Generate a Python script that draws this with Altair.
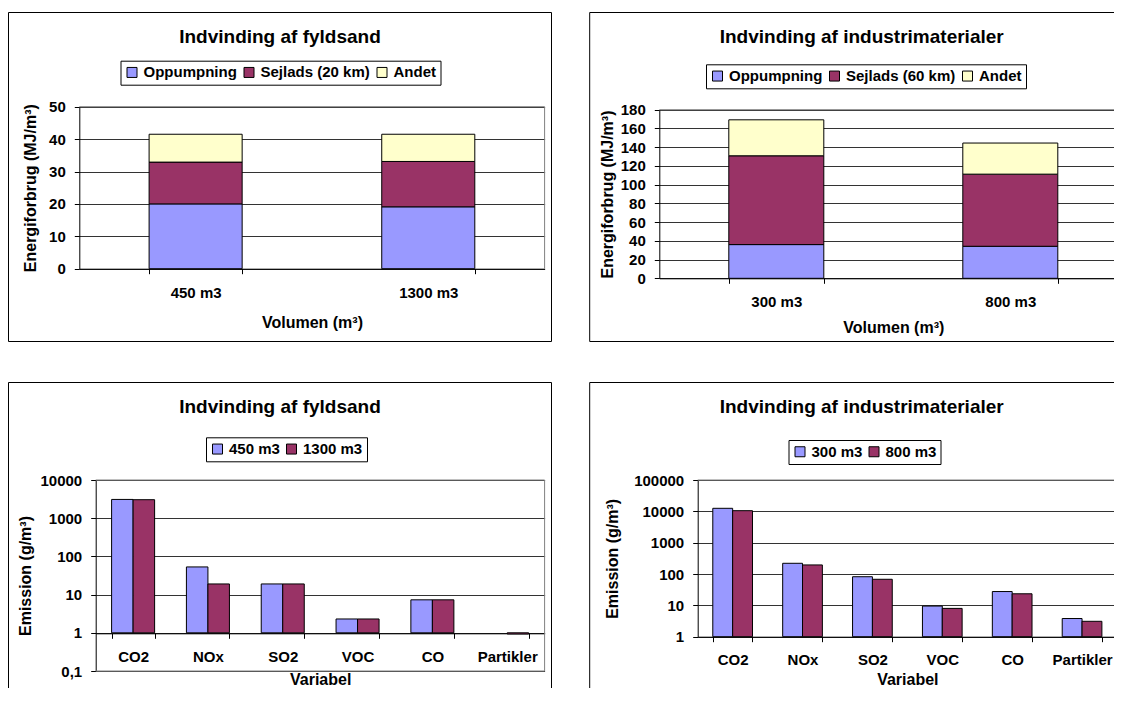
import altair as alt
import pandas as pd

FONT = "Liberation Sans"
BLUE = "#9999FF"
MAROON = "#993366"
CREAM = "#FFFFCC"
GRID = "#333333"
BORDER = "#808080"

# ---------------- data ----------------
title1 = "Indvinding af fyldsand"
vol1 = ["450 m3", "1300 m3"]
comp1 = ["Oppumpning", "Sejlads (20 km)", "Andet"]
opp1 = [20.0, 19.1]
sejl1 = [12.9, 14.0]
andet1 = [8.6, 8.4]
y1_ticks = [0, 10, 20, 30, 40, 50]

title2 = "Indvinding af industrimaterialer"
vol2 = ["300 m3", "800 m3"]
comp2 = ["Oppumpning", "Sejlads (60 km)", "Andet"]
opp2 = [36.0, 34.2]
sejl2 = [94.8, 77.0]
andet2 = [38.4, 33.2]
y2_ticks = [0, 20, 40, 60, 80, 100, 120, 140, 160, 180]

variables = ["CO2", "NOx", "SO2", "VOC", "CO", "Partikler"]
ser3 = ["450 m3", "1300 m3"]
em3_450 = [3100, 53, 19, 2.3, 7.3, None]
em3_1300 = [3050, 19, 19, 2.3, 7.3, 0.93]
y3_ticks = [0.1, 1, 10, 100, 1000, 10000]

ser4 = ["300 m3", "800 m3"]
em4_300 = [12500, 220, 82, 9.5, 27.6, 3.8]
em4_800 = [10500, 195, 68, 8.0, 23.4, 3.1]
y4_ticks = [1, 10, 100, 1000, 10000, 100000]

xtitle_vol = "Volumen (m³)"
ytitle_energy = "Energiforbrug (MJ/m³)"
xtitle_var = "Variabel"
ytitle_em = "Emission (g/m³)"

# ---------------- layout (page pixels) ----------------
TOT_W, TOT_H = 1106, 680
M = 8  # page margin


def P(v):
    return v - M


def stack_df(vols, comps, series, k):
    rows = []
    for i, v in enumerate(vols):
        for j, c in enumerate(comps):
            rows.append({f"vol{k}": v, f"comp{k}": c, f"value{k}": series[j][i], f"ord{k}": j})
    return pd.DataFrame(rows)


def group_df(cats, sers, series, k):
    rows = []
    for i, c in enumerate(cats):
        for j, s in enumerate(sers):
            val = series[j][i]
            if val is not None:
                rows.append({f"var{k}": c, f"ser{k}": s, f"value{k}": val})
    return pd.DataFrame(rows)


DUMMY = pd.DataFrame({"d": [0]})


def frame(x1, y1, x2, y2):
    return alt.Chart(DUMMY).mark_rect(fill="transparent", stroke="black", strokeWidth=1).encode(
        x=alt.value(P(x1)), x2=alt.value(P(x2)), y=alt.value(P(y1)), y2=alt.value(P(y2)))


def hrule(x1, x2, y, color=BORDER):
    return alt.Chart(DUMMY).mark_rule(color=color, strokeWidth=1).encode(
        x=alt.value(P(x1)), x2=alt.value(P(x2)), y=alt.value(P(y)))


def vrule(x, y1, y2, color=BORDER):
    return alt.Chart(DUMMY).mark_rule(color=color, strokeWidth=1).encode(
        x=alt.value(P(x)), y=alt.value(P(y1)), y2=alt.value(P(y2)))


def title_text(txt, x, y):
    return alt.Chart(DUMMY).mark_text(
        text=txt, font=FONT, fontSize=19, fontWeight="bold", color="black",
        align="center", baseline="middle").encode(x=alt.value(P(x)), y=alt.value(P(y)))


def legend(x, y):
    return alt.Legend(
        orient="none", legendX=P(x), legendY=P(y), direction="horizontal", title=None,
        strokeColor="black", fillColor="white", padding=4, cornerRadius=0,
        symbolType="square", symbolSize=100, symbolStrokeColor="black",
        symbolStrokeWidth=1, labelFont=FONT, labelFontSize=15,
        labelFontWeight="bold", labelColor="black", columnPadding=4,
        labelOffset=4)


def xaxis(left, right, axis_y, label_pad, title_y):
    return alt.Axis(
        orient="bottom", offset=P(axis_y) - TOT_H,
        labelAngle=0, labelBaseline="middle", labelPadding=label_pad,
        tickBand="extent", tickSize=5, grid=False, labelOverlap=False,
        titleX=P((left + right) / 2), titleY=title_y - axis_y,
        titleBaseline="middle", titleAlign="center")


def yaxis(values, left, top, bottom, title_x, log=False):
    kw = dict(
        orient="left", offset=-P(left), values=values, grid=True,
        gridColor=GRID, gridWidth=1, tickSize=5, labelPadding=9,
        titleX=title_x - left, titleY=P((top + bottom) / 2),
        titleBaseline="middle", titleAlign="center", titleAngle=270)
    if log:
        kw["labelExpr"] = "replace(toString(datum.value), '.', ',')"
    return alt.Axis(**kw)


layers = []

# ---------------- panel 1 ----------------
L1, R1, T1, B1 = 79.3, 544.6, 106.7, 268.7
df1 = stack_df(vol1, comp1, [opp1, sejl1, andet1], 1)
bars1 = alt.Chart(df1).mark_bar(stroke="black", strokeWidth=1).encode(
    x=alt.X("vol1:N", sort=vol1, title=xtitle_vol,
            scale=alt.Scale(paddingInner=0.6, paddingOuter=0.3, range=[P(L1), P(R1)]),
            axis=xaxis(L1, R1, B1, 18.3, 322.7)),
    y=alt.Y("value1:Q", stack="zero", title=ytitle_energy,
            scale=alt.Scale(domain=[0, 50], nice=False, range=[P(B1), P(T1)]),
            axis=yaxis(y1_ticks, L1, T1, B1, 30)),
    color=alt.Color("comp1:N", scale=alt.Scale(domain=comp1, range=[BLUE, MAROON, CREAM]),
                    legend=legend(120.5, 60.7)),
    order=alt.Order("ord1:Q", sort="ascending"),
)
layers += [frame(8.5, 12.5, 551.5, 341.5), hrule(L1, R1, T1), vrule(R1, T1, B1),
           bars1, title_text(title1, 280, 36.7)]

# ---------------- panel 2 ----------------
L2, R2, T2, B2 = 659.3, 1127.3, 109.7, 278.3
df2 = stack_df(vol2, comp2, [opp2, sejl2, andet2], 2)
bars2 = alt.Chart(df2).mark_bar(stroke="black", strokeWidth=1).encode(
    x=alt.X("vol2:N", sort=vol2, title=xtitle_vol,
            scale=alt.Scale(paddingInner=0.594, paddingOuter=0.297, range=[P(L2), P(R2)]),
            axis=xaxis(L2, R2, B2, 18.4, 327.7)),
    y=alt.Y("value2:Q", stack="zero", title=ytitle_energy,
            scale=alt.Scale(domain=[0, 180], nice=False, range=[P(B2), P(T2)]),
            axis=yaxis(y2_ticks, L2, T2, B2, 607)),
    color=alt.Color("comp2:N", scale=alt.Scale(domain=comp2, range=[BLUE, MAROON, CREAM]),
                    legend=legend(706, 64.3)),
    order=alt.Order("ord2:Q", sort="ascending"),
)
layers += [frame(589.7, 12.5, 1140, 341.5), hrule(L2, R2, T2),
           bars2, title_text(title2, 861.7, 36.7)]

# ---------------- panel 3 ----------------
L3, R3, T3, B3 = 95.7, 544.6, 480, 671
AX3 = 633.3
df3 = group_df(variables, ser3, [em3_450, em3_1300], 3)
bars3 = alt.Chart(df3).mark_bar(stroke="black", strokeWidth=1).encode(
    x=alt.X("var3:N", sort=variables, title=xtitle_var,
            scale=alt.Scale(paddingInner=0.425, paddingOuter=0.2125, range=[P(L3), P(R3)]),
            axis=xaxis(L3, R3, AX3, 17.7, 679)),
    xOffset=alt.XOffset("ser3:N", sort=ser3, scale=alt.Scale(domain=ser3)),
    y=alt.Y("value3:Q", title=ytitle_em,
            scale=alt.Scale(type="log", domain=[0.1, 10000], nice=False, range=[P(B3), P(T3)]),
            axis=yaxis(y3_ticks, L3, T3, B3, 25, log=True)),
    y2=alt.datum(1),
    color=alt.Color("ser3:N", scale=alt.Scale(domain=ser3, range=[BLUE, MAROON]),
                    legend=legend(206, 437.3)),
)
layers += [frame(8.5, 382.5, 551.5, 720), hrule(L3, R3, T3), hrule(L3, R3, B3),
           vrule(R3, T3, B3), bars3, title_text(title1, 280, 407.3)]

# ---------------- panel 4 ----------------
L4, R4, T4, B4 = 697.7, 1117, 480, 636.7
df4 = group_df(variables, ser4, [em4_300, em4_800], 4)
bars4 = alt.Chart(df4).mark_bar(stroke="black", strokeWidth=1).encode(
    x=alt.X("var4:N", sort=variables, title=xtitle_var,
            scale=alt.Scale(paddingInner=0.432, paddingOuter=0.216, range=[P(L4), P(R4)]),
            axis=xaxis(L4, R4, B4, 17.6, 679)),
    xOffset=alt.XOffset("ser4:N", sort=ser4, scale=alt.Scale(domain=ser4)),
    y=alt.Y("value4:Q", title=ytitle_em,
            scale=alt.Scale(type="log", domain=[1, 100000], nice=False, range=[P(B4), P(T4)]),
            axis=yaxis(y4_ticks, L4, T4, B4, 612.8, log=True)),
    y2=alt.datum(1),
    color=alt.Color("ser4:N", scale=alt.Scale(domain=ser4, range=[BLUE, MAROON]),
                    legend=legend(788.5, 440)),
)
layers += [frame(589.7, 382.5, 1140, 720), hrule(L4, 1140, T4),
           bars4, title_text(title2, 861.7, 407.3)]

chart = alt.layer(*layers).resolve_scale(
    x="independent", y="independent", color="independent", xOffset="independent"
).resolve_axis(
    x="independent", y="independent"
).resolve_legend(
    color="independent"
).properties(
    width=TOT_W, height=TOT_H, padding=0,
    autosize=alt.AutoSizeParams(type="none"),
    background="white",
).configure_view(
    strokeWidth=0, fill="white"
).configure_axis(
    labelFont=FONT, labelFontSize=15, labelFontWeight="bold", labelColor="black",
    titleFont=FONT, titleFontSize=16, titleFontWeight="bold", titleColor="black",
    domainColor="black", tickColor="black", domainWidth=1, tickWidth=1,
)

chart.save("out.html", embed_options={"renderer": "svg", "actions": False})
